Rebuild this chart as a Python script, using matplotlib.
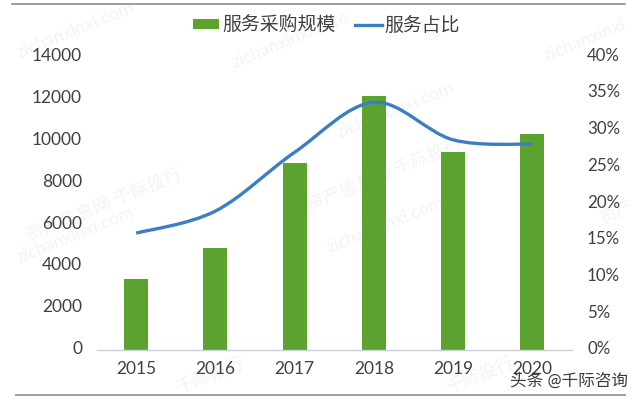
import matplotlib
matplotlib.use("Agg")
import matplotlib.pyplot as plt
from matplotlib.path import Path
from matplotlib.patches import PathPatch
from matplotlib.lines import Line2D
from matplotlib.transforms import ScaledTranslation

plt.rcParams['font.family'] = ['Lato', 'Noto Sans CJK SC', 'DejaVu Sans']

years = ['2015', '2016', '2017', '2018', '2019', '2020']
scale = [3370, 4870, 8920, 12110, 9440, 10300]
share = [15.9, 18.9, 26.9, 33.7, 28.6, 28.0]
left_ticks = [0, 2000, 4000, 6000, 8000, 10000, 12000, 14000]
right_ticks = [0, 5, 10, 15, 20, 25, 30, 35, 40]
bar_name = '服务采购规模'
line_name = '服务占比'
credit = '头条 @千际咨询'
wm_cn = '资产信息网 千际投行'
wm_cn_short = '千际投行'
wm_cn_edge = '资产'
wm_en = 'zichanxinxi.com'
wm_en_short = 'zichanxinxi'

W, H = 640, 401
GREEN, BLUE, TXT = '#5ba22f', '#3a7fc4', '#404040'

fig = plt.figure(figsize=(6.4, 4.01), dpi=100, facecolor='white')
ax = fig.add_axes([96.6 / W, 1 - 350 / H, (571.8 - 96.6) / W, 294 / H])
x = list(range(len(years)))
bars = ax.bar(x, scale, width=0.305, color=GREEN, zorder=2)
ax.set_xlim(-0.5, 5.5)
ax.set_ylim(0, 14000)
ax.set_xticks(x, years)
ax.set_yticks(left_ticks)
for s in ('top', 'left', 'right'):
    ax.spines[s].set_visible(False)
ax.spines['bottom'].set_color('#cdd0d6')
ax.spines['bottom'].set_linewidth(1.0)
ax.tick_params(length=0, labelsize=12.5, labelcolor=TXT)
ax.tick_params(axis='y', pad=10.5)
ax.tick_params(axis='x', pad=8)

ax2 = ax.twinx()
ax2.set_ylim(0, 40)
ax2.set_yticks(right_ticks, [f'{t}%' for t in right_ticks])
for s in ax2.spines.values():
    s.set_visible(False)
ax2.tick_params(length=0, labelsize=12.2, labelcolor=TXT, pad=11)

# Smooth curve through the data points, Excel "smoothed line" style
verts, codes = [(x[0], share[0])], [Path.MOVETO]
n = len(x)
for i in range(n - 1):
    p0 = share[max(i - 1, 0)]
    p1, p2 = share[i], share[i + 1]
    p3 = share[min(i + 2, n - 1)]
    x0, x1, x2, x3 = x[max(i - 1, 0)], x[i], x[i + 1], x[min(i + 2, n - 1)]
    verts += [(x1 + (x2 - x0) / 6, p1 + (p2 - p0) / 6),
              (x2 - (x3 - x1) / 6, p2 - (p3 - p1) / 6),
              (x2, p2)]
    codes += [Path.CURVE4] * 3
ax2.add_patch(PathPatch(Path(verts, codes), fill=False, edgecolor=BLUE, lw=2.4,
                        capstyle='butt', joinstyle='round', zorder=3))

# tick labels sit slightly above their gridline value
shift = ScaledTranslation(0, 2 / 100, fig.dpi_scale_trans)
for a in (ax, ax2):
    for lab in a.get_yticklabels():
        lab.set_transform(lab.get_transform() + shift)

handles = [bars.patches[0], Line2D([], [], color=BLUE, lw=2.4)]
fig.legend(handles, [bar_name, line_name], ncol=2, frameon=False,
           loc='center', bbox_to_anchor=(326.5 / W, 1 - 25 / H), fontsize=13.6,
           labelcolor=TXT, handlelength=1.4, handleheight=0.43,
           handletextpad=0.15, columnspacing=1.05, borderpad=0, borderaxespad=0)

# Frame rules above and below the picture
fig.add_artist(Line2D([12 / W, 625 / W], [1 - 4 / H] * 2, color='#8c8c8c', lw=1.2))
fig.add_artist(Line2D([16 / W, 625 / W], [1 - 395 / H] * 2, color='#a0a0a0', lw=1.4))

# Faint site watermarks
marks = [(wm_en, 75, 30), (wm_en, 290, 40), (wm_en, 75, 235), (wm_en, 395, 110),
         (wm_en_short, 585, 40), (wm_en, 385, 225), (wm_cn, 105, 205), (wm_cn, 385, 175),
         (wm_cn_edge, 616, 212), (wm_cn_short, 210, 376), (wm_cn_short, 480, 376)]
for txt, mx, my in marks:
    fig.text(mx / W, 1 - my / H, txt, fontsize=13, color='#888888', alpha=0.10,
             rotation=22, ha='center', va='center', zorder=1)

fig.text(628 / W, 1 - 381 / H, credit, fontsize=12, color='#3a3a3a',
         ha='right', va='center', zorder=5)

fig.savefig('out.png', dpi=100)
